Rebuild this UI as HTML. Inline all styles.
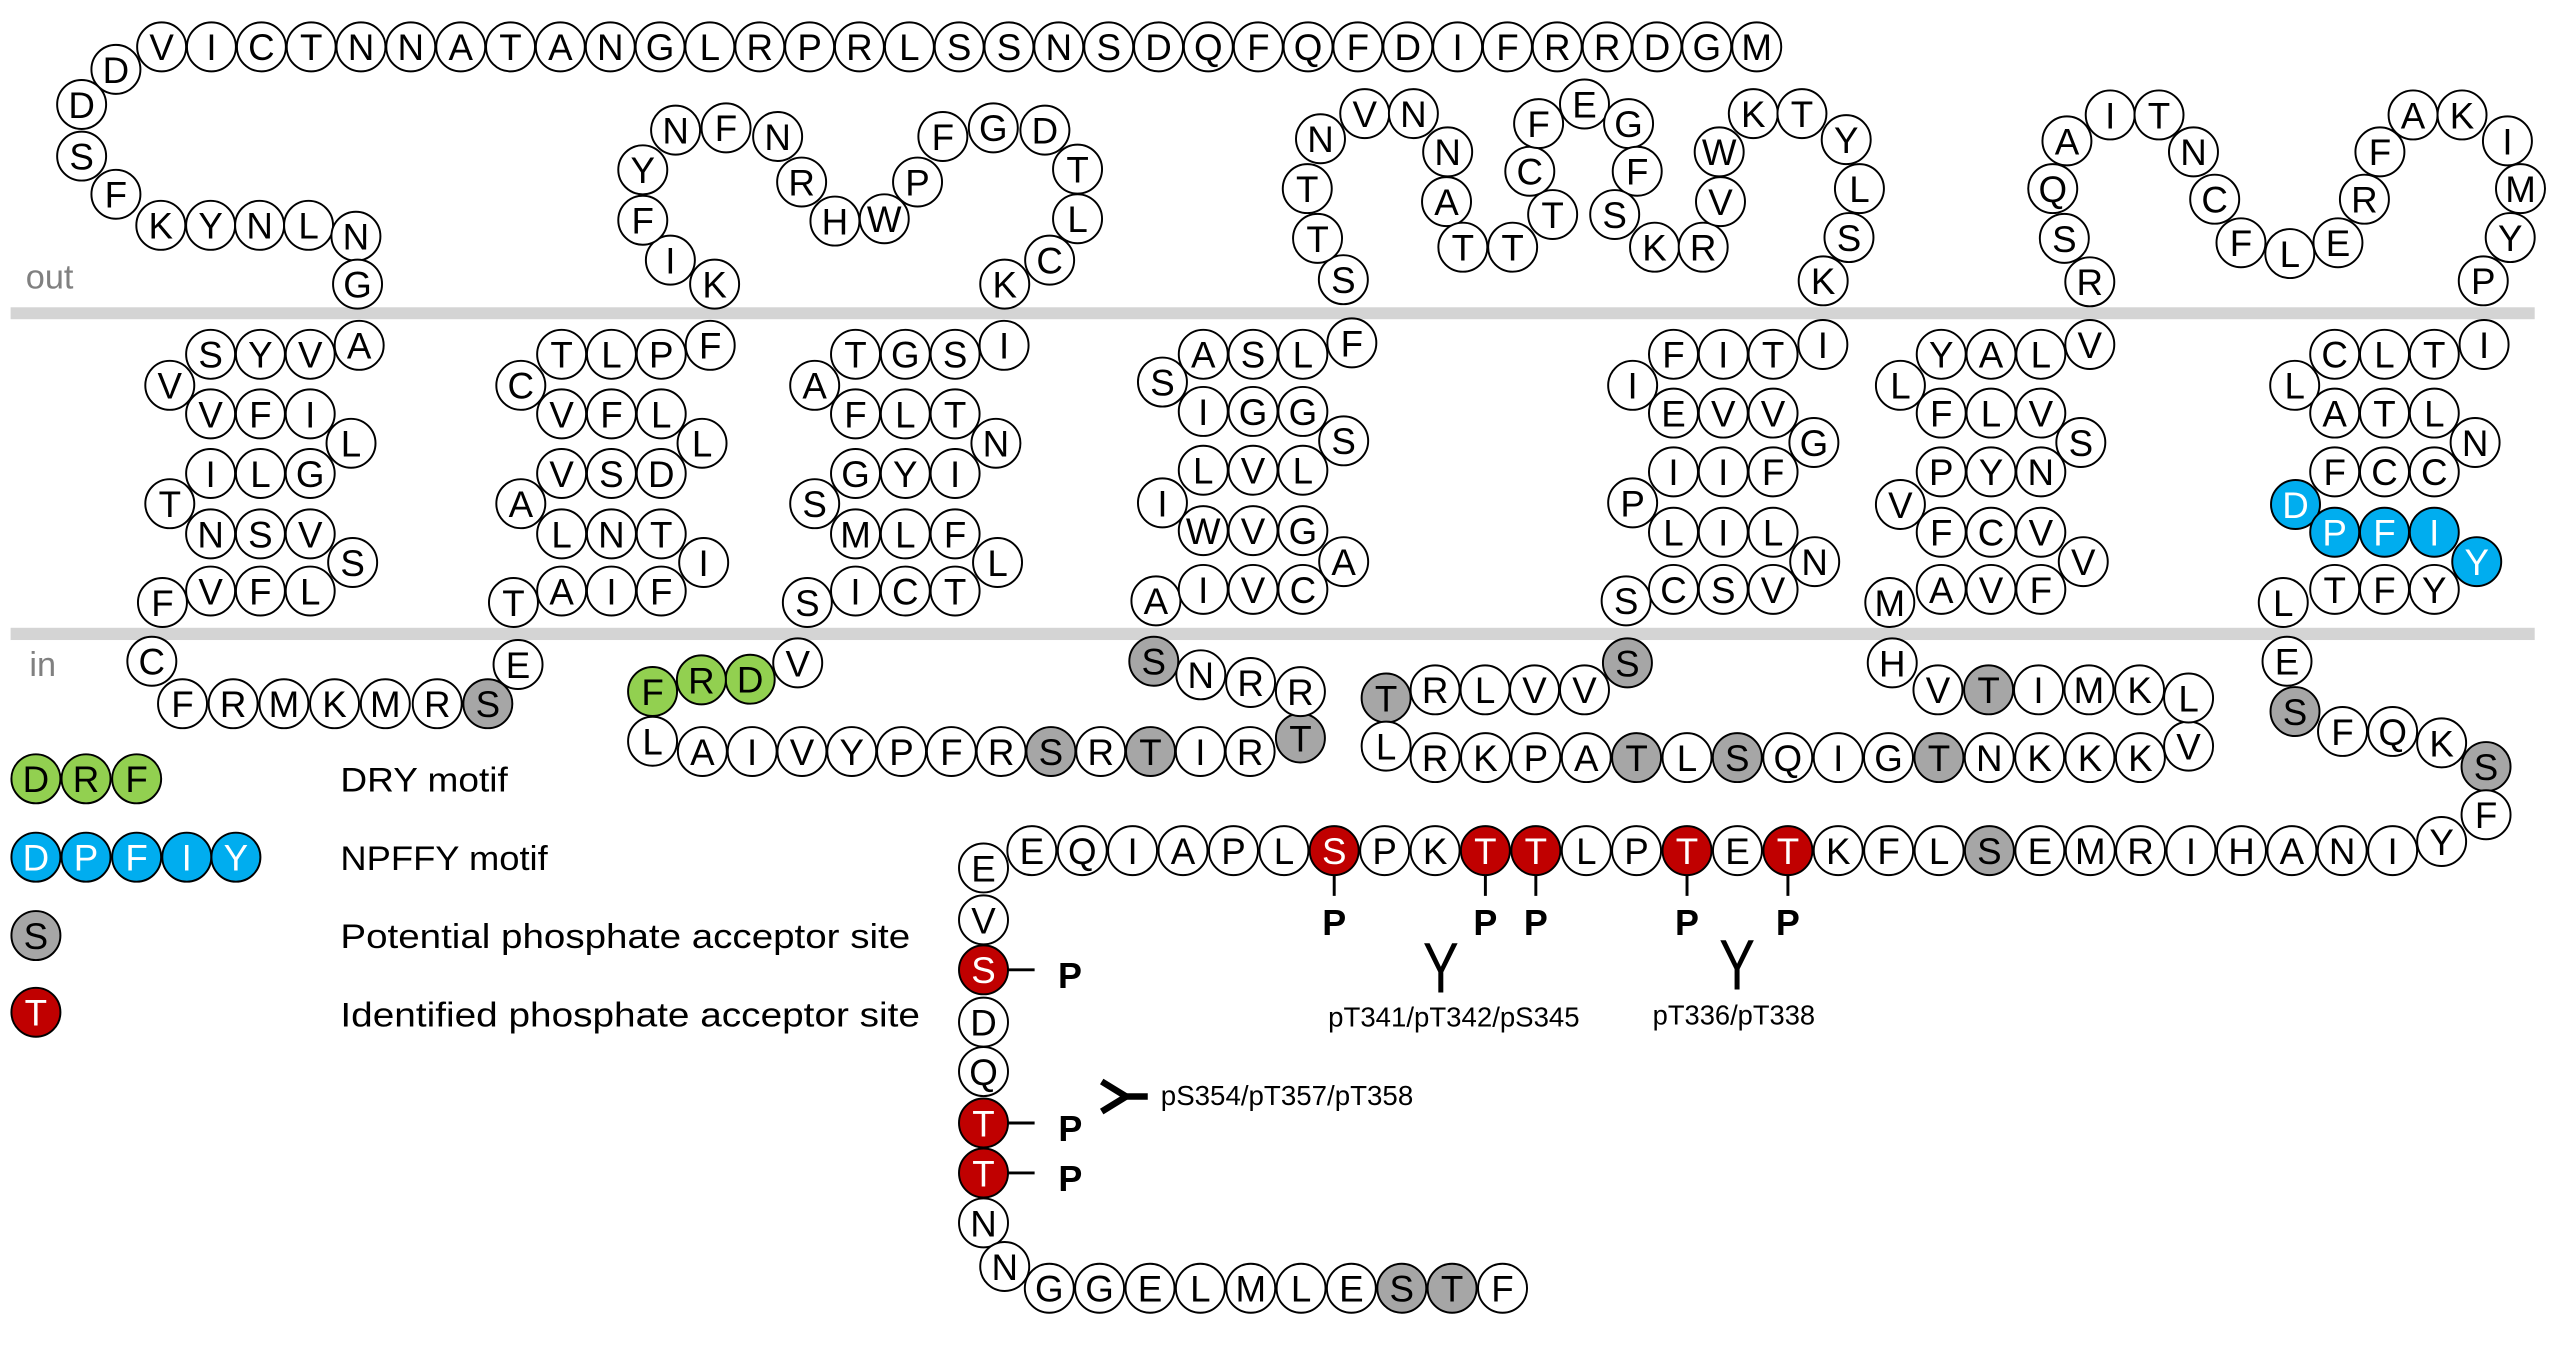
<!DOCTYPE html>
<html><head><meta charset="utf-8"><title>Receptor topology</title>
<style>
html,body{margin:0;padding:0;background:#fff;}
svg{display:block;}
text{font-family:"Liberation Sans",sans-serif;}
.c circle{stroke:#000;stroke-width:1.2;fill:#fff;}
.c text{font-size:22.5px;text-anchor:middle;fill:#000;transform:translateY(0.7px);}
.c .g{fill:#a6a6a6;}
.c .r{fill:#c00000;}
.c .b{fill:#00adef;}
.c .n{fill:#92d050;}
.c text.wt{fill:#fff;}
.p{font-size:22px;font-weight:bold;text-anchor:middle;}
.lab{font-size:17px;}
.leg{font-size:21px;}
</style></head>
<body>
<svg width="2560" height="1347" viewBox="0 0 1568 825" preserveAspectRatio="none" xmlns="http://www.w3.org/2000/svg">
<rect x="0" y="0" width="1568" height="825" fill="#fff"/>
<rect x="6.5" y="188.2" width="1546" height="7.3" fill="#d4d4d4"/>
<rect x="6.5" y="384.5" width="1546" height="7.5" fill="#d4d4d4"/>
<text x="15.8" y="176.6" font-size="21" fill="#808080">out</text>
<text x="18" y="414" font-size="21" fill="#808080">in</text>

<g class="c">
<circle cx="99" cy="28.7" r="15"/><text x="99" y="36.2">V</text>
<circle cx="129.5" cy="28.7" r="15"/><text x="129.5" y="36.2">I</text>
<circle cx="160.1" cy="28.7" r="15"/><text x="160.1" y="36.2">C</text>
<circle cx="190.6" cy="28.7" r="15"/><text x="190.6" y="36.2">T</text>
<circle cx="221.1" cy="28.7" r="15"/><text x="221.1" y="36.2">N</text>
<circle cx="251.6" cy="28.7" r="15"/><text x="251.6" y="36.2">N</text>
<circle cx="282.2" cy="28.7" r="15"/><text x="282.2" y="36.2">A</text>
<circle cx="312.7" cy="28.7" r="15"/><text x="312.7" y="36.2">T</text>
<circle cx="343.2" cy="28.7" r="15"/><text x="343.2" y="36.2">A</text>
<circle cx="373.8" cy="28.7" r="15"/><text x="373.8" y="36.2">N</text>
<circle cx="404.3" cy="28.7" r="15"/><text x="404.3" y="36.2">G</text>
<circle cx="434.8" cy="28.7" r="15"/><text x="434.8" y="36.2">L</text>
<circle cx="465.4" cy="28.7" r="15"/><text x="465.4" y="36.2">R</text>
<circle cx="495.9" cy="28.7" r="15"/><text x="495.9" y="36.2">P</text>
<circle cx="526.4" cy="28.7" r="15"/><text x="526.4" y="36.2">R</text>
<circle cx="557" cy="28.7" r="15"/><text x="557" y="36.2">L</text>
<circle cx="587.5" cy="28.7" r="15"/><text x="587.5" y="36.2">S</text>
<circle cx="618" cy="28.7" r="15"/><text x="618" y="36.2">S</text>
<circle cx="648.5" cy="28.7" r="15"/><text x="648.5" y="36.2">N</text>
<circle cx="679.1" cy="28.7" r="15"/><text x="679.1" y="36.2">S</text>
<circle cx="709.6" cy="28.7" r="15"/><text x="709.6" y="36.2">D</text>
<circle cx="740.1" cy="28.7" r="15"/><text x="740.1" y="36.2">Q</text>
<circle cx="770.7" cy="28.7" r="15"/><text x="770.7" y="36.2">F</text>
<circle cx="801.2" cy="28.7" r="15"/><text x="801.2" y="36.2">Q</text>
<circle cx="831.7" cy="28.7" r="15"/><text x="831.7" y="36.2">F</text>
<circle cx="862.3" cy="28.7" r="15"/><text x="862.3" y="36.2">D</text>
<circle cx="892.8" cy="28.7" r="15"/><text x="892.8" y="36.2">I</text>
<circle cx="923.3" cy="28.7" r="15"/><text x="923.3" y="36.2">F</text>
<circle cx="953.8" cy="28.7" r="15"/><text x="953.8" y="36.2">R</text>
<circle cx="984.4" cy="28.7" r="15"/><text x="984.4" y="36.2">R</text>
<circle cx="1014.9" cy="28.7" r="15"/><text x="1014.9" y="36.2">D</text>
<circle cx="1045.4" cy="28.7" r="15"/><text x="1045.4" y="36.2">G</text>
<circle cx="1076" cy="28.7" r="15"/><text x="1076" y="36.2">M</text>
<circle cx="71" cy="42.5" r="15"/><text x="71" y="50">D</text>
<circle cx="50" cy="64" r="15"/><text x="50" y="71.5">D</text>
<circle cx="50" cy="95.6" r="15"/><text x="50" y="103.1">S</text>
<circle cx="71" cy="119" r="15"/><text x="71" y="126.5">F</text>
<circle cx="98.5" cy="138" r="15"/><text x="98.5" y="145.5">K</text>
<circle cx="129" cy="138" r="15"/><text x="129" y="145.5">Y</text>
<circle cx="159" cy="138" r="15"/><text x="159" y="145.5">N</text>
<circle cx="189" cy="138" r="15"/><text x="189" y="145.5">L</text>
<circle cx="218" cy="144.7" r="15"/><text x="218" y="152.2">N</text>
<circle cx="219" cy="174" r="15"/><text x="219" y="181.5">G</text>

<circle cx="437.7" cy="174" r="15"/><text x="437.7" y="181.5">K</text>
<circle cx="410.6" cy="159.3" r="15"/><text x="410.6" y="166.8">I</text>
<circle cx="393.7" cy="134.9" r="15"/><text x="393.7" y="142.4">F</text>
<circle cx="393.7" cy="104" r="15"/><text x="393.7" y="111.5">Y</text>
<circle cx="413.8" cy="79.7" r="15"/><text x="413.8" y="87.2">N</text>
<circle cx="444.7" cy="78.3" r="15"/><text x="444.7" y="85.8">F</text>
<circle cx="476.3" cy="83.6" r="15"/><text x="476.3" y="91.1">N</text>
<circle cx="491" cy="111.5" r="15"/><text x="491" y="119">R</text>
<circle cx="511.4" cy="135.4" r="15"/><text x="511.4" y="142.9">H</text>
<circle cx="541.6" cy="134" r="15"/><text x="541.6" y="141.5">W</text>
<circle cx="562" cy="111.5" r="15"/><text x="562" y="119">P</text>
<circle cx="577.5" cy="83.6" r="15"/><text x="577.5" y="91.1">F</text>
<circle cx="608.4" cy="78.3" r="15"/><text x="608.4" y="85.8">G</text>
<circle cx="640" cy="79.7" r="15"/><text x="640" y="87.2">D</text>
<circle cx="660" cy="103.6" r="15"/><text x="660" y="111.1">T</text>
<circle cx="660" cy="134" r="15"/><text x="660" y="141.5">L</text>
<circle cx="642.9" cy="159.3" r="15"/><text x="642.9" y="166.8">C</text>
<circle cx="615.4" cy="174" r="15"/><text x="615.4" y="181.5">K</text>

<circle cx="822.8" cy="171.3" r="15"/><text x="822.8" y="178.8">S</text>
<circle cx="807" cy="146" r="15"/><text x="807" y="153.5">T</text>
<circle cx="800.7" cy="115.5" r="15"/><text x="800.7" y="123">T</text>
<circle cx="808.8" cy="85" r="15"/><text x="808.8" y="92.5">N</text>
<circle cx="835.9" cy="69.6" r="15"/><text x="835.9" y="77.1">V</text>
<circle cx="865.7" cy="69.6" r="15"/><text x="865.7" y="77.1">N</text>
<circle cx="886.7" cy="93" r="15"/><text x="886.7" y="100.5">N</text>
<circle cx="886" cy="123.5" r="15"/><text x="886" y="131">A</text>
<circle cx="896" cy="151.4" r="15"/><text x="896" y="158.9">T</text>
<circle cx="926.5" cy="151.4" r="15"/><text x="926.5" y="158.9">T</text>
<circle cx="951" cy="131.4" r="15"/><text x="951" y="138.9">T</text>
<circle cx="937" cy="104.9" r="15"/><text x="937" y="112.4">C</text>
<circle cx="942.4" cy="75.7" r="15"/><text x="942.4" y="83.2">F</text>
<circle cx="970.5" cy="63.7" r="15"/><text x="970.5" y="71.2">E</text>
<circle cx="997.5" cy="75.7" r="15"/><text x="997.5" y="83.2">G</text>
<circle cx="1002.8" cy="104.9" r="15"/><text x="1002.8" y="112.4">F</text>
<circle cx="989" cy="131.4" r="15"/><text x="989" y="138.9">S</text>
<circle cx="1013.4" cy="151.4" r="15"/><text x="1013.4" y="158.9">K</text>
<circle cx="1043.2" cy="151.4" r="15"/><text x="1043.2" y="158.9">R</text>
<circle cx="1053.8" cy="123.5" r="15"/><text x="1053.8" y="131">V</text>
<circle cx="1053" cy="93" r="15"/><text x="1053" y="100.5">W</text>
<circle cx="1073.9" cy="69.6" r="15"/><text x="1073.9" y="77.1">K</text>
<circle cx="1103.7" cy="69.6" r="15"/><text x="1103.7" y="77.1">T</text>
<circle cx="1130.8" cy="85.5" r="15"/><text x="1130.8" y="93">Y</text>
<circle cx="1138.9" cy="115.5" r="15"/><text x="1138.9" y="123">L</text>
<circle cx="1132.5" cy="145.5" r="15"/><text x="1132.5" y="153">S</text>
<circle cx="1116.7" cy="172" r="15"/><text x="1116.7" y="179.5">K</text>

<circle cx="1280" cy="172.6" r="15"/><text x="1280" y="180.1">R</text>
<circle cx="1264.4" cy="146" r="15"/><text x="1264.4" y="153.5">S</text>
<circle cx="1257.3" cy="115.5" r="15"/><text x="1257.3" y="123">Q</text>
<circle cx="1266" cy="86.3" r="15"/><text x="1266" y="93.8">A</text>
<circle cx="1292.5" cy="70.4" r="15"/><text x="1292.5" y="77.9">I</text>
<circle cx="1322.4" cy="70.4" r="15"/><text x="1322.4" y="77.9">T</text>
<circle cx="1343.5" cy="93" r="15"/><text x="1343.5" y="100.5">N</text>
<circle cx="1356.5" cy="122" r="15"/><text x="1356.5" y="129.5">C</text>
<circle cx="1372.6" cy="148.7" r="15"/><text x="1372.6" y="156.2">F</text>
<circle cx="1402.5" cy="155.3" r="15"/><text x="1402.5" y="162.8">L</text>
<circle cx="1432" cy="148.7" r="15"/><text x="1432" y="156.2">E</text>
<circle cx="1448.2" cy="122" r="15"/><text x="1448.2" y="129.5">R</text>
<circle cx="1457.7" cy="93" r="15"/><text x="1457.7" y="100.5">F</text>
<circle cx="1478" cy="70.4" r="15"/><text x="1478" y="77.9">A</text>
<circle cx="1508" cy="70.4" r="15"/><text x="1508" y="77.9">K</text>
<circle cx="1535.8" cy="86.3" r="15"/><text x="1535.8" y="93.8">I</text>
<circle cx="1543.8" cy="115.5" r="15"/><text x="1543.8" y="123">M</text>
<circle cx="1537.5" cy="145.5" r="15"/><text x="1537.5" y="153">Y</text>
<circle cx="1521" cy="172" r="15"/><text x="1521" y="179.5">P</text>

<circle cx="129" cy="217" r="15"/><text x="129" y="224.5">S</text>
<circle cx="159.5" cy="217" r="15"/><text x="159.5" y="224.5">Y</text>
<circle cx="190" cy="217" r="15"/><text x="190" y="224.5">V</text>
<circle cx="104" cy="236" r="15"/><text x="104" y="243.5">V</text>
<circle cx="220" cy="211.5" r="15"/><text x="220" y="219">A</text>
<circle cx="129" cy="253.5" r="15"/><text x="129" y="261">V</text>
<circle cx="159.5" cy="253.5" r="15"/><text x="159.5" y="261">F</text>
<circle cx="190" cy="253.5" r="15"/><text x="190" y="261">I</text>
<circle cx="215" cy="271.5" r="15"/><text x="215" y="279">L</text>
<circle cx="129" cy="290" r="15"/><text x="129" y="297.5">I</text>
<circle cx="159.5" cy="290" r="15"/><text x="159.5" y="297.5">L</text>
<circle cx="190" cy="290" r="15"/><text x="190" y="297.5">G</text>
<circle cx="104" cy="308.5" r="15"/><text x="104" y="316">T</text>
<circle cx="129" cy="327" r="15"/><text x="129" y="334.5">N</text>
<circle cx="159.5" cy="327" r="15"/><text x="159.5" y="334.5">S</text>
<circle cx="190" cy="327" r="15"/><text x="190" y="334.5">V</text>
<circle cx="216" cy="344.5" r="15"/><text x="216" y="352">S</text>
<circle cx="99.5" cy="369" r="15"/><text x="99.5" y="376.5">F</text>
<circle cx="129" cy="362" r="15"/><text x="129" y="369.5">V</text>
<circle cx="159.5" cy="362" r="15"/><text x="159.5" y="369.5">F</text>
<circle cx="190" cy="362" r="15"/><text x="190" y="369.5">L</text>

<circle cx="344" cy="217" r="15"/><text x="344" y="224.5">T</text>
<circle cx="374.5" cy="217" r="15"/><text x="374.5" y="224.5">L</text>
<circle cx="405" cy="217" r="15"/><text x="405" y="224.5">P</text>
<circle cx="319" cy="236" r="15"/><text x="319" y="243.5">C</text>
<circle cx="435" cy="211.5" r="15"/><text x="435" y="219">F</text>
<circle cx="344" cy="253.5" r="15"/><text x="344" y="261">V</text>
<circle cx="374.5" cy="253.5" r="15"/><text x="374.5" y="261">F</text>
<circle cx="405" cy="253.5" r="15"/><text x="405" y="261">L</text>
<circle cx="430" cy="271.5" r="15"/><text x="430" y="279">L</text>
<circle cx="344" cy="290" r="15"/><text x="344" y="297.5">V</text>
<circle cx="374.5" cy="290" r="15"/><text x="374.5" y="297.5">S</text>
<circle cx="405" cy="290" r="15"/><text x="405" y="297.5">D</text>
<circle cx="319" cy="308.5" r="15"/><text x="319" y="316">A</text>
<circle cx="344" cy="327" r="15"/><text x="344" y="334.5">L</text>
<circle cx="374.5" cy="327" r="15"/><text x="374.5" y="334.5">N</text>
<circle cx="405" cy="327" r="15"/><text x="405" y="334.5">T</text>
<circle cx="431" cy="344.5" r="15"/><text x="431" y="352">I</text>
<circle cx="314.5" cy="369" r="15"/><text x="314.5" y="376.5">T</text>
<circle cx="344" cy="362" r="15"/><text x="344" y="369.5">A</text>
<circle cx="374.5" cy="362" r="15"/><text x="374.5" y="369.5">I</text>
<circle cx="405" cy="362" r="15"/><text x="405" y="369.5">F</text>

<circle cx="524" cy="217" r="15"/><text x="524" y="224.5">T</text>
<circle cx="554.5" cy="217" r="15"/><text x="554.5" y="224.5">G</text>
<circle cx="585" cy="217" r="15"/><text x="585" y="224.5">S</text>
<circle cx="499" cy="236" r="15"/><text x="499" y="243.5">A</text>
<circle cx="615" cy="211.5" r="15"/><text x="615" y="219">I</text>
<circle cx="524" cy="253.5" r="15"/><text x="524" y="261">F</text>
<circle cx="554.5" cy="253.5" r="15"/><text x="554.5" y="261">L</text>
<circle cx="585" cy="253.5" r="15"/><text x="585" y="261">T</text>
<circle cx="610" cy="271.5" r="15"/><text x="610" y="279">N</text>
<circle cx="524" cy="290" r="15"/><text x="524" y="297.5">G</text>
<circle cx="554.5" cy="290" r="15"/><text x="554.5" y="297.5">Y</text>
<circle cx="585" cy="290" r="15"/><text x="585" y="297.5">I</text>
<circle cx="499" cy="308.5" r="15"/><text x="499" y="316">S</text>
<circle cx="524" cy="327" r="15"/><text x="524" y="334.5">M</text>
<circle cx="554.5" cy="327" r="15"/><text x="554.5" y="334.5">L</text>
<circle cx="585" cy="327" r="15"/><text x="585" y="334.5">F</text>
<circle cx="611" cy="344.5" r="15"/><text x="611" y="352">L</text>
<circle cx="494.5" cy="369" r="15"/><text x="494.5" y="376.5">S</text>
<circle cx="524" cy="362" r="15"/><text x="524" y="369.5">I</text>
<circle cx="554.5" cy="362" r="15"/><text x="554.5" y="369.5">C</text>
<circle cx="585" cy="362" r="15"/><text x="585" y="369.5">T</text>

<circle cx="737" cy="217" r="15"/><text x="737" y="224.5">A</text>
<circle cx="767.5" cy="217" r="15"/><text x="767.5" y="224.5">S</text>
<circle cx="798" cy="217" r="15"/><text x="798" y="224.5">L</text>
<circle cx="712" cy="234" r="15"/><text x="712" y="241.5">S</text>
<circle cx="828" cy="210" r="15"/><text x="828" y="217.5">F</text>
<circle cx="737" cy="252" r="15"/><text x="737" y="259.5">I</text>
<circle cx="767.5" cy="252" r="15"/><text x="767.5" y="259.5">G</text>
<circle cx="798" cy="252" r="15"/><text x="798" y="259.5">G</text>
<circle cx="823" cy="270" r="15"/><text x="823" y="277.5">S</text>
<circle cx="737" cy="288" r="15"/><text x="737" y="295.5">L</text>
<circle cx="767.5" cy="288" r="15"/><text x="767.5" y="295.5">V</text>
<circle cx="798" cy="288" r="15"/><text x="798" y="295.5">L</text>
<circle cx="712" cy="308" r="15"/><text x="712" y="315.5">I</text>
<circle cx="737" cy="325" r="15"/><text x="737" y="332.5">W</text>
<circle cx="767.5" cy="325" r="15"/><text x="767.5" y="332.5">V</text>
<circle cx="798" cy="325" r="15"/><text x="798" y="332.5">G</text>
<circle cx="823" cy="344" r="15"/><text x="823" y="351.5">A</text>
<circle cx="708" cy="368" r="15"/><text x="708" y="375.5">A</text>
<circle cx="737" cy="361" r="15"/><text x="737" y="368.5">I</text>
<circle cx="767.5" cy="361" r="15"/><text x="767.5" y="368.5">V</text>
<circle cx="798" cy="361" r="15"/><text x="798" y="368.5">C</text>

<circle cx="1025" cy="217" r="15"/><text x="1025" y="224.5">F</text>
<circle cx="1055.5" cy="217" r="15"/><text x="1055.5" y="224.5">I</text>
<circle cx="1086" cy="217" r="15"/><text x="1086" y="224.5">T</text>
<circle cx="1000" cy="236" r="15"/><text x="1000" y="243.5">I</text>
<circle cx="1116.5" cy="211" r="15"/><text x="1116.5" y="218.5">I</text>
<circle cx="1025" cy="253" r="15"/><text x="1025" y="260.5">E</text>
<circle cx="1055.5" cy="253" r="15"/><text x="1055.5" y="260.5">V</text>
<circle cx="1086" cy="253" r="15"/><text x="1086" y="260.5">V</text>
<circle cx="1111" cy="271" r="15"/><text x="1111" y="278.5">G</text>
<circle cx="1025" cy="289" r="15"/><text x="1025" y="296.5">I</text>
<circle cx="1055.5" cy="289" r="15"/><text x="1055.5" y="296.5">I</text>
<circle cx="1086" cy="289" r="15"/><text x="1086" y="296.5">F</text>
<circle cx="1000" cy="308" r="15"/><text x="1000" y="315.5">P</text>
<circle cx="1025" cy="326" r="15"/><text x="1025" y="333.5">L</text>
<circle cx="1055.5" cy="326" r="15"/><text x="1055.5" y="333.5">I</text>
<circle cx="1086" cy="326" r="15"/><text x="1086" y="333.5">L</text>
<circle cx="1111.5" cy="344" r="15"/><text x="1111.5" y="351.5">N</text>
<circle cx="996" cy="368" r="15"/><text x="996" y="375.5">S</text>
<circle cx="1025" cy="361" r="15"/><text x="1025" y="368.5">C</text>
<circle cx="1055.5" cy="361" r="15"/><text x="1055.5" y="368.5">S</text>
<circle cx="1086" cy="361" r="15"/><text x="1086" y="368.5">V</text>

<circle cx="1189" cy="217" r="15"/><text x="1189" y="224.5">Y</text>
<circle cx="1219.5" cy="217" r="15"/><text x="1219.5" y="224.5">A</text>
<circle cx="1250" cy="217" r="15"/><text x="1250" y="224.5">L</text>
<circle cx="1164" cy="236" r="15"/><text x="1164" y="243.5">L</text>
<circle cx="1280" cy="211" r="15"/><text x="1280" y="218.5">V</text>
<circle cx="1189" cy="253" r="15"/><text x="1189" y="260.5">F</text>
<circle cx="1219.5" cy="253" r="15"/><text x="1219.5" y="260.5">L</text>
<circle cx="1250" cy="253" r="15"/><text x="1250" y="260.5">V</text>
<circle cx="1274.5" cy="271" r="15"/><text x="1274.5" y="278.5">S</text>
<circle cx="1189" cy="289" r="15"/><text x="1189" y="296.5">P</text>
<circle cx="1219.5" cy="289" r="15"/><text x="1219.5" y="296.5">Y</text>
<circle cx="1250" cy="289" r="15"/><text x="1250" y="296.5">N</text>
<circle cx="1164" cy="309" r="15"/><text x="1164" y="316.5">V</text>
<circle cx="1189" cy="326" r="15"/><text x="1189" y="333.5">F</text>
<circle cx="1219.5" cy="326" r="15"/><text x="1219.5" y="333.5">C</text>
<circle cx="1250" cy="326" r="15"/><text x="1250" y="333.5">V</text>
<circle cx="1276" cy="344" r="15"/><text x="1276" y="351.5">V</text>
<circle cx="1157.5" cy="369" r="15"/><text x="1157.5" y="376.5">M</text>
<circle cx="1189" cy="361" r="15"/><text x="1189" y="368.5">A</text>
<circle cx="1219.5" cy="361" r="15"/><text x="1219.5" y="368.5">V</text>
<circle cx="1250" cy="361" r="15"/><text x="1250" y="368.5">F</text>

<circle cx="1430" cy="217" r="15"/><text x="1430" y="224.5">C</text>
<circle cx="1460.5" cy="217" r="15"/><text x="1460.5" y="224.5">L</text>
<circle cx="1491" cy="217" r="15"/><text x="1491" y="224.5">T</text>
<circle cx="1405.5" cy="236" r="15"/><text x="1405.5" y="243.5">L</text>
<circle cx="1521.5" cy="211" r="15"/><text x="1521.5" y="218.5">I</text>
<circle cx="1430" cy="253" r="15"/><text x="1430" y="260.5">A</text>
<circle cx="1460.5" cy="253" r="15"/><text x="1460.5" y="260.5">T</text>
<circle cx="1491" cy="253" r="15"/><text x="1491" y="260.5">L</text>
<circle cx="1516" cy="271" r="15"/><text x="1516" y="278.5">N</text>
<circle cx="1430" cy="289" r="15"/><text x="1430" y="296.5">F</text>
<circle cx="1460.5" cy="289" r="15"/><text x="1460.5" y="296.5">C</text>
<circle cx="1491" cy="289" r="15"/><text x="1491" y="296.5">C</text>
<circle class="b" cx="1406" cy="309" r="15"/><text class="wt" x="1406" y="316.5">D</text>
<circle class="b" cx="1430" cy="326" r="15"/><text class="wt" x="1430" y="333.5">P</text>
<circle class="b" cx="1460.5" cy="326" r="15"/><text class="wt" x="1460.5" y="333.5">F</text>
<circle class="b" cx="1491" cy="326" r="15"/><text class="wt" x="1491" y="333.5">I</text>
<circle class="b" cx="1517" cy="344" r="15"/><text class="wt" x="1517" y="351.5">Y</text>
<circle cx="1398.5" cy="369" r="15"/><text x="1398.5" y="376.5">L</text>
<circle cx="1430" cy="361" r="15"/><text x="1430" y="368.5">T</text>
<circle cx="1460.5" cy="361" r="15"/><text x="1460.5" y="368.5">F</text>
<circle cx="1491" cy="361" r="15"/><text x="1491" y="368.5">Y</text>

<circle cx="93" cy="405" r="15"/><text x="93" y="412.5">C</text>
<circle cx="111.8" cy="431" r="15"/><text x="111.8" y="438.5">F</text>
<circle cx="142.8" cy="431" r="15"/><text x="142.8" y="438.5">R</text>
<circle cx="173.9" cy="431" r="15"/><text x="173.9" y="438.5">M</text>
<circle cx="204.9" cy="431" r="15"/><text x="204.9" y="438.5">K</text>
<circle cx="236" cy="431" r="15"/><text x="236" y="438.5">M</text>
<circle cx="267.8" cy="431" r="15"/><text x="267.8" y="438.5">R</text>
<circle class="g" cx="298.8" cy="431" r="15"/><text x="298.8" y="438.5">S</text>
<circle cx="317.3" cy="407" r="15"/><text x="317.3" y="414.5">E</text>

<circle cx="488.6" cy="406" r="15"/><text x="488.6" y="413.5">V</text>
<circle class="n" cx="459.5" cy="416" r="15"/><text x="459.5" y="423.5">D</text>
<circle class="n" cx="429.6" cy="416.4" r="15"/><text x="429.6" y="423.9">R</text>
<circle class="n" cx="399.7" cy="423.5" r="15"/><text x="399.7" y="431">F</text>
<circle cx="399.7" cy="454" r="15"/><text x="399.7" y="461.5">L</text>
<circle cx="430.2" cy="460.3" r="15"/><text x="430.2" y="467.8">A</text>
<circle cx="460.7" cy="460.3" r="15"/><text x="460.7" y="467.8">I</text>
<circle cx="491.2" cy="460.3" r="15"/><text x="491.2" y="467.8">V</text>
<circle cx="521.7" cy="460.3" r="15"/><text x="521.7" y="467.8">Y</text>
<circle cx="552.2" cy="460.3" r="15"/><text x="552.2" y="467.8">P</text>
<circle cx="582.7" cy="460.3" r="15"/><text x="582.7" y="467.8">F</text>
<circle cx="613.2" cy="460.3" r="15"/><text x="613.2" y="467.8">R</text>
<circle class="g" cx="643.7" cy="460.3" r="15"/><text x="643.7" y="467.8">S</text>
<circle cx="674.2" cy="460.3" r="15"/><text x="674.2" y="467.8">R</text>
<circle class="g" cx="704.7" cy="460.3" r="15"/><text x="704.7" y="467.8">T</text>
<circle cx="735.2" cy="460.3" r="15"/><text x="735.2" y="467.8">I</text>
<circle cx="765.7" cy="460.3" r="15"/><text x="765.7" y="467.8">R</text>
<circle class="g" cx="796.5" cy="452" r="15"/><text x="796.5" y="459.5">T</text>
<circle cx="796.5" cy="423.6" r="15"/><text x="796.5" y="431.1">R</text>
<circle cx="766" cy="418" r="15"/><text x="766" y="425.5">R</text>
<circle cx="735.5" cy="413.3" r="15"/><text x="735.5" y="420.8">N</text>
<circle class="g" cx="706.7" cy="405" r="15"/><text x="706.7" y="412.5">S</text>

<circle class="g" cx="996.8" cy="406" r="15"/><text x="996.8" y="413.5">S</text>
<circle cx="970.5" cy="422.5" r="15"/><text x="970.5" y="430">V</text>
<circle cx="939.9" cy="422.5" r="15"/><text x="939.9" y="430">V</text>
<circle cx="909.6" cy="422.5" r="15"/><text x="909.6" y="430">L</text>
<circle cx="879" cy="422.5" r="15"/><text x="879" y="430">R</text>
<circle class="g" cx="849" cy="427.5" r="15"/><text x="849" y="435">T</text>
<circle cx="849" cy="457" r="15"/><text x="849" y="464.5">L</text>
<circle cx="879" cy="464" r="15"/><text x="879" y="471.5">R</text>
<circle cx="909.9" cy="464" r="15"/><text x="909.9" y="471.5">K</text>
<circle cx="940.7" cy="464" r="15"/><text x="940.7" y="471.5">P</text>
<circle cx="971.6" cy="464" r="15"/><text x="971.6" y="471.5">A</text>
<circle class="g" cx="1002.4" cy="464" r="15"/><text x="1002.4" y="471.5">T</text>
<circle cx="1033.3" cy="464" r="15"/><text x="1033.3" y="471.5">L</text>
<circle class="g" cx="1064.1" cy="464" r="15"/><text x="1064.1" y="471.5">S</text>
<circle cx="1095" cy="464" r="15"/><text x="1095" y="471.5">Q</text>
<circle cx="1125.9" cy="464" r="15"/><text x="1125.9" y="471.5">I</text>
<circle cx="1156.7" cy="464" r="15"/><text x="1156.7" y="471.5">G</text>
<circle class="g" cx="1187.6" cy="464" r="15"/><text x="1187.6" y="471.5">T</text>
<circle cx="1218.4" cy="464" r="15"/><text x="1218.4" y="471.5">N</text>
<circle cx="1249.3" cy="464" r="15"/><text x="1249.3" y="471.5">K</text>
<circle cx="1280.1" cy="464" r="15"/><text x="1280.1" y="471.5">K</text>
<circle cx="1311" cy="464" r="15"/><text x="1311" y="471.5">K</text>
<circle cx="1340.5" cy="457" r="15"/><text x="1340.5" y="464.5">V</text>
<circle cx="1340.5" cy="427.5" r="15"/><text x="1340.5" y="435">L</text>
<circle cx="1310.5" cy="422.5" r="15"/><text x="1310.5" y="430">K</text>
<circle cx="1279.5" cy="422.5" r="15"/><text x="1279.5" y="430">M</text>
<circle cx="1248.6" cy="422.5" r="15"/><text x="1248.6" y="430">I</text>
<circle class="g" cx="1218" cy="422.5" r="15"/><text x="1218" y="430">T</text>
<circle cx="1187" cy="422.5" r="15"/><text x="1187" y="430">V</text>
<circle cx="1159" cy="406" r="15"/><text x="1159" y="413.5">H</text>

<circle cx="1400.8" cy="405" r="15"/><text x="1400.8" y="412.5">E</text>
<circle class="g" cx="1405.7" cy="435.8" r="15"/><text x="1405.7" y="443.3">S</text>
<circle cx="1434.8" cy="448" r="15"/><text x="1434.8" y="455.5">F</text>
<circle cx="1465.5" cy="448" r="15"/><text x="1465.5" y="455.5">Q</text>
<circle cx="1495.5" cy="455" r="15"/><text x="1495.5" y="462.5">K</text>
<circle class="g" cx="1522.7" cy="469.5" r="15"/><text x="1522.7" y="477">S</text>
<circle cx="1522.7" cy="499" r="15"/><text x="1522.7" y="506.5">F</text>
<circle cx="1495.5" cy="515.4" r="15"/><text x="1495.5" y="522.9">Y</text>

<circle cx="632" cy="521" r="15"/><text x="632" y="528.5">E</text>
<circle cx="662.9" cy="521" r="15"/><text x="662.9" y="528.5">Q</text>
<circle cx="693.7" cy="521" r="15"/><text x="693.7" y="528.5">I</text>
<circle cx="724.6" cy="521" r="15"/><text x="724.6" y="528.5">A</text>
<circle cx="755.5" cy="521" r="15"/><text x="755.5" y="528.5">P</text>
<circle cx="786.4" cy="521" r="15"/><text x="786.4" y="528.5">L</text>
<circle class="r" cx="817.2" cy="521" r="15"/><text class="wt" x="817.2" y="528.5">S</text>
<circle cx="848.1" cy="521" r="15"/><text x="848.1" y="528.5">P</text>
<circle cx="879" cy="521" r="15"/><text x="879" y="528.5">K</text>
<circle class="r" cx="909.8" cy="521" r="15"/><text class="wt" x="909.8" y="528.5">T</text>
<circle class="r" cx="940.7" cy="521" r="15"/><text class="wt" x="940.7" y="528.5">T</text>
<circle cx="971.6" cy="521" r="15"/><text x="971.6" y="528.5">L</text>
<circle cx="1002.4" cy="521" r="15"/><text x="1002.4" y="528.5">P</text>
<circle class="r" cx="1033.3" cy="521" r="15"/><text class="wt" x="1033.3" y="528.5">T</text>
<circle cx="1064.2" cy="521" r="15"/><text x="1064.2" y="528.5">E</text>
<circle class="r" cx="1095.1" cy="521" r="15"/><text class="wt" x="1095.1" y="528.5">T</text>
<circle cx="1125.9" cy="521" r="15"/><text x="1125.9" y="528.5">K</text>
<circle cx="1156.8" cy="521" r="15"/><text x="1156.8" y="528.5">F</text>
<circle cx="1187.7" cy="521" r="15"/><text x="1187.7" y="528.5">L</text>
<circle class="g" cx="1218.5" cy="521" r="15"/><text x="1218.5" y="528.5">S</text>
<circle cx="1249.4" cy="521" r="15"/><text x="1249.4" y="528.5">E</text>
<circle cx="1280.3" cy="521" r="15"/><text x="1280.3" y="528.5">M</text>
<circle cx="1311.1" cy="521" r="15"/><text x="1311.1" y="528.5">R</text>
<circle cx="1342" cy="521" r="15"/><text x="1342" y="528.5">I</text>
<circle cx="1372.9" cy="521" r="15"/><text x="1372.9" y="528.5">H</text>
<circle cx="1403.8" cy="521" r="15"/><text x="1403.8" y="528.5">A</text>
<circle cx="1434.6" cy="521" r="15"/><text x="1434.6" y="528.5">N</text>
<circle cx="1465.5" cy="521" r="15"/><text x="1465.5" y="528.5">I</text>

<circle cx="602.4" cy="531.6" r="15"/><text x="602.4" y="539.1">E</text>
<circle cx="602.4" cy="563.4" r="15"/><text x="602.4" y="570.9">V</text>
<circle class="r" cx="602.4" cy="594" r="15"/><text class="wt" x="602.4" y="601.5">S</text>
<circle cx="602.4" cy="626" r="15"/><text x="602.4" y="633.5">D</text>
<circle cx="602.4" cy="656.3" r="15"/><text x="602.4" y="663.8">Q</text>
<circle class="r" cx="602.4" cy="687.8" r="15"/><text class="wt" x="602.4" y="695.3">T</text>
<circle class="r" cx="602.4" cy="718.4" r="15"/><text class="wt" x="602.4" y="725.9">T</text>
<circle cx="602.4" cy="749" r="15"/><text x="602.4" y="756.5">N</text>
<circle cx="615.4" cy="775.7" r="15"/><text x="615.4" y="783.2">N</text>
<circle cx="642.7" cy="789" r="15"/><text x="642.7" y="796.5">G</text>
<circle cx="673.5" cy="789" r="15"/><text x="673.5" y="796.5">G</text>
<circle cx="704.4" cy="789" r="15"/><text x="704.4" y="796.5">E</text>
<circle cx="735.2" cy="789" r="15"/><text x="735.2" y="796.5">L</text>
<circle cx="766.1" cy="789" r="15"/><text x="766.1" y="796.5">M</text>
<circle cx="796.9" cy="789" r="15"/><text x="796.9" y="796.5">L</text>
<circle cx="827.7" cy="789" r="15"/><text x="827.7" y="796.5">E</text>
<circle class="g" cx="858.6" cy="789" r="15"/><text x="858.6" y="796.5">S</text>
<circle class="g" cx="889.4" cy="789" r="15"/><text x="889.4" y="796.5">T</text>
<circle cx="920.3" cy="789" r="15"/><text x="920.3" y="796.5">F</text>

<circle class="n" cx="22" cy="477" r="15"/><text x="22" y="484.5">D</text>
<circle class="n" cx="52.7" cy="477" r="15"/><text x="52.7" y="484.5">R</text>
<circle class="n" cx="83.7" cy="477" r="15"/><text x="83.7" y="484.5">F</text>
<circle class="b" cx="22" cy="525" r="15"/><text class="wt" x="22" y="532.5">D</text>
<circle class="b" cx="52.7" cy="525" r="15"/><text class="wt" x="52.7" y="532.5">P</text>
<circle class="b" cx="83.7" cy="525" r="15"/><text class="wt" x="83.7" y="532.5">F</text>
<circle class="b" cx="114.4" cy="525" r="15"/><text class="wt" x="114.4" y="532.5">I</text>
<circle class="b" cx="144.5" cy="525" r="15"/><text class="wt" x="144.5" y="532.5">Y</text>
<circle class="g" cx="22" cy="573" r="15"/><text x="22" y="580.5">S</text>
<circle class="r" cx="22" cy="620" r="15"/><text class="wt" x="22" y="627.5">T</text>
</g>

<text class="leg" x="208.5" y="484.8" textLength="102.5" lengthAdjust="spacingAndGlyphs">DRY motif</text>
<text class="leg" x="208.5" y="532.8" textLength="127" lengthAdjust="spacingAndGlyphs">NPFFY motif</text>
<text class="leg" x="208.5" y="580.7" textLength="349" lengthAdjust="spacingAndGlyphs">Potential phosphate acceptor site</text>
<text class="leg" x="208.5" y="628.7" textLength="355" lengthAdjust="spacingAndGlyphs">Identified phosphate acceptor site</text>

<g stroke="#000" stroke-width="1.8">
<line x1="817.2" y1="536" x2="817.2" y2="548.7"/>
<line x1="909.8" y1="536" x2="909.8" y2="548.7"/>
<line x1="940.7" y1="536" x2="940.7" y2="548.7"/>
<line x1="1033.3" y1="536" x2="1033.3" y2="548.7"/>
<line x1="1095.1" y1="536" x2="1095.1" y2="548.7"/>
<line x1="617.4" y1="594" x2="633.7" y2="594"/>
<line x1="617.4" y1="687.8" x2="633.7" y2="687.8"/>
<line x1="617.4" y1="718.4" x2="633.7" y2="718.4"/>
</g>
<text class="p" x="817.2" y="572.6">P</text>
<text class="p" x="909.8" y="572.6">P</text>
<text class="p" x="940.7" y="572.6">P</text>
<text class="p" x="1033.3" y="572.6">P</text>
<text class="p" x="1095.1" y="572.6">P</text>
<text class="p" x="655.4" y="605">P</text>
<text class="p" x="655.6" y="698.8">P</text>
<text class="p" x="655.6" y="729.4">P</text>

<text x="882.5" y="608" font-size="44" text-anchor="middle" transform="translate(882.5 0) scale(0.75 1) translate(-882.5 0)">Y</text>
<text x="1064" y="606" font-size="44" text-anchor="middle" transform="translate(1064 0) scale(0.75 1) translate(-1064 0)">Y</text>
<text class="lab" x="890.5" y="628.7" text-anchor="middle" textLength="154" lengthAdjust="spacingAndGlyphs">pT341/pT342/pS345</text>
<text class="lab" x="1062" y="627.5" text-anchor="middle" textLength="99.5" lengthAdjust="spacingAndGlyphs">pT336/pT338</text>

<polyline points="674.8,662.4 689.8,671.6 674.8,680.8" fill="none" stroke="#000" stroke-width="4" stroke-linejoin="miter"/>
<line x1="689" y1="671.6" x2="703" y2="671.6" stroke="#000" stroke-width="4"/>
<text class="lab" x="711" y="676.7" textLength="154.6" lengthAdjust="spacingAndGlyphs">pS354/pT357/pT358</text>
</svg>
</body></html>
